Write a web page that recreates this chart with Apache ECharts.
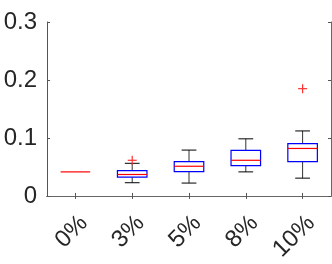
<!DOCTYPE html>
<html><head><meta charset="utf-8">
<script src="https://cdn.jsdelivr.net/npm/echarts@6/dist/echarts.min.js"></script>
<style>html,body{margin:0;padding:0;background:#fff}#c{width:332px;height:264px}</style>
</head><body><div id="c"></div>
<script>
var categories = ['0%', '3%', '5%', '8%', '10%'];
var lowWhisker = [0.0415, 0.0228, 0.0222, 0.0415, 0.0307];
var q1 = [0.0415, 0.0324, 0.0421, 0.0524, 0.0592];
var median = [0.0415, 0.0370, 0.0512, 0.0615, 0.0819];
var q3 = [0.0415, 0.0438, 0.0592, 0.0785, 0.0904];
var highWhisker = [0.0415, 0.0563, 0.0791, 0.0985, 0.1121];
var outliers = [[1, 0.0615], [4, 0.185]];
var yTicks = [0, 0.1, 0.2, 0.3];

var boxData = categories.map(function (c, i) {
  return [i, lowWhisker[i], q1[i], median[i], q3[i], highWhisker[i]];
});

var chart = echarts.init(document.getElementById('c'), null, {renderer: 'canvas'});
var font = 'Liberation Sans, Arial, Helvetica, sans-serif';
function renderBox(params, api) {
  var i = api.value(0);
  var band = api.size([1, 0])[0];
  var bw = band * 0.52, cw = band * 0.26;
  var x = api.coord([i, 0])[0];
  var yl = api.coord([i, api.value(1)])[1];
  var y1 = api.coord([i, api.value(2)])[1];
  var ym = api.coord([i, api.value(3)])[1];
  var y3 = api.coord([i, api.value(4)])[1];
  var yh = api.coord([i, api.value(5)])[1];
  var ch = [];
  if (Math.abs(y1 - y3) > 0.5) {
    var blk = {stroke: '#000', lineWidth: 1};
    ch.push({type: 'line', shape: {x1: x, y1: yh, x2: x, y2: y3}, style: {stroke: '#333', lineWidth: 1}});
    ch.push({type: 'line', shape: {x1: x, y1: y1, x2: x, y2: yl}, style: {stroke: '#333', lineWidth: 1}});
    ch.push({type: 'line', shape: {x1: x - cw / 2, y1: yh, x2: x + cw / 2, y2: yh}, style: blk});
    ch.push({type: 'line', shape: {x1: x - cw / 2, y1: yl, x2: x + cw / 2, y2: yl}, style: blk});
    ch.push({type: 'rect', shape: {x: x - bw / 2, y: y3, width: bw, height: y1 - y3}, style: {fill: 'none', stroke: '#0000ff', lineWidth: 1.2}});
  }
  ch.push({type: 'line', shape: {x1: x - bw / 2, y1: ym, x2: x + bw / 2, y2: ym}, style: {stroke: '#ff0000', lineWidth: 1.2}});
  return {type: 'group', children: ch};
}
function renderPlus(params, api) {
  var p = api.coord([api.value(0), api.value(1)]);
  var s = 4.5;
  return {type: 'group', children: [
    {type: 'line', shape: {x1: p[0] - s, y1: p[1], x2: p[0] + s, y2: p[1]}, style: {stroke: '#ff3030', lineWidth: 1.2}},
    {type: 'line', shape: {x1: p[0], y1: p[1] - s, x2: p[0], y2: p[1] + s}, style: {stroke: '#ff3030', lineWidth: 1.2}}
  ]};
}
var tickStyle = {show: true, inside: true, length: 3, lineStyle: {color: '#555', width: 1}};
chart.setOption({
  animation: false,
  grid: {left: 47, right: 1, top: 22, bottom: 66},
  xAxis: [{
    type: 'category', data: categories, boundaryGap: true, position: 'bottom',
    axisLine: {lineStyle: {color: '#262626', width: 1}},
    axisTick: {show: true, inside: true, length: 3, alignWithLabel: true, lineStyle: {color: '#555'}},
    axisLabel: {rotate: 45, color: '#262626', fontSize: 24, fontFamily: font, margin: 15, verticalAlign: 'top'},
    splitLine: {show: false}
  }, {
    type: 'category', data: categories, boundaryGap: true, position: 'top',
    axisLine: {lineStyle: {color: '#666', width: 1}},
    axisTick: {show: true, inside: true, length: 3, alignWithLabel: true, lineStyle: {color: '#555'}},
    axisLabel: {show: false}
  }],
  yAxis: [{
    type: 'value', min: 0, max: 0.3, interval: 0.1, position: 'left',
    axisLine: {show: true, lineStyle: {color: '#555', width: 1}},
    axisTick: tickStyle,
    axisLabel: {color: '#262626', fontSize: 24, fontFamily: font, margin: 10,
      formatter: function (v) { var k = yTicks.indexOf(Math.round(v * 10) / 10); return k >= 0 ? String(yTicks[k]) : ''; }},
    splitLine: {show: false}
  }, {
    type: 'value', min: 0, max: 0.3, interval: 0.1, position: 'right',
    axisLine: {show: true, lineStyle: {color: '#666', width: 1}},
    axisTick: tickStyle,
    axisLabel: {show: false},
    splitLine: {show: false}
  }],
  series: [{
    type: 'custom', renderItem: renderBox, data: boxData, encode: {x: 0, y: [1, 2, 3, 4, 5]}, z: 5
  }, {
    type: 'custom', renderItem: renderPlus, data: outliers, encode: {x: 0, y: 1}, z: 6
  }]
});
</script></body></html>
